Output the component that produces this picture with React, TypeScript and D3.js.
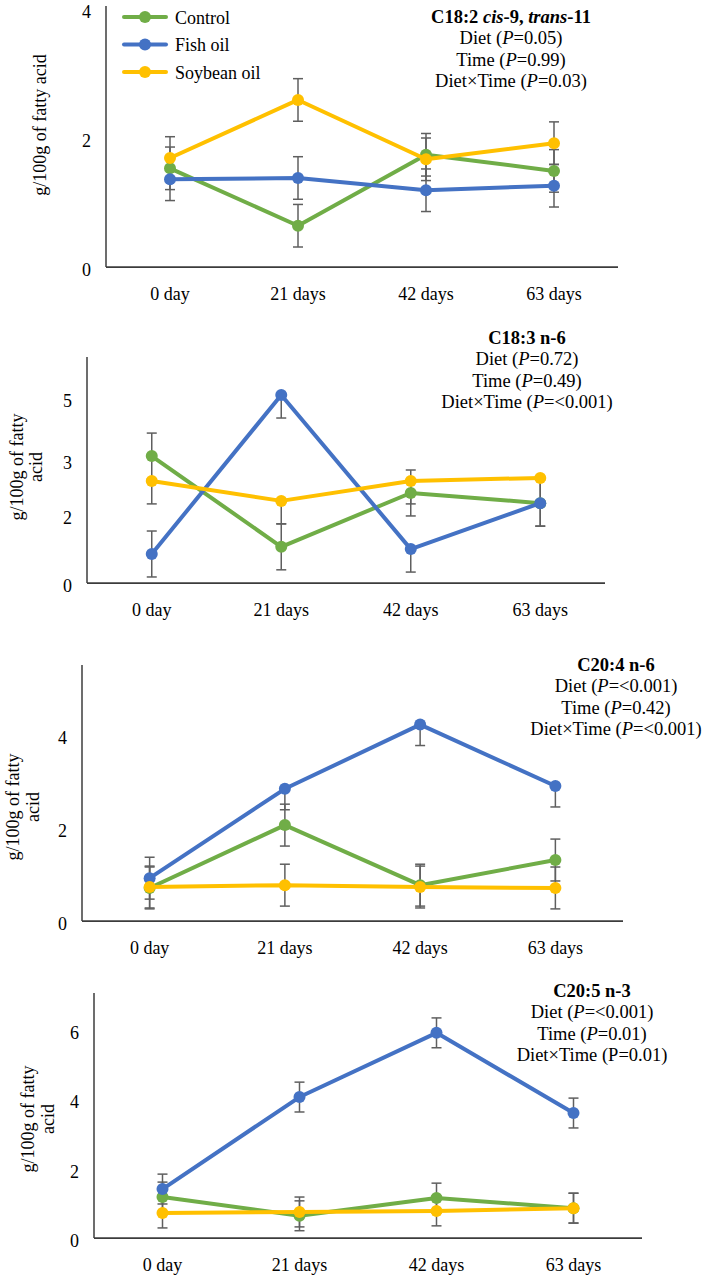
import React from "react";
import * as d3 from "d3";

// ---------- data ----------
const days = ["0 day", "21 days", "42 days", "63 days"];
const seriesNames = ["Control", "Fish oil", "Soybean oil"];
const seriesColors = ["#70AD47", "#4472C4", "#FFC000"];

// Panel 1: C18:2 cis-9, trans-11
const p1Control = [1.53, 0.64, 1.74, 1.49];
const p1Fish = [1.36, 1.38, 1.19, 1.26];
const p1Soy = [1.69, 2.59, 1.67, 1.92];
const p1ErrUp = [[0.33, 0.33, 0.33, 0.33], [0.33, 0.33, 0.33, 0.33], [0.33, 0.33, 0.33, 0.33]];
const p1ErrDown = [[0.33, 0.33, 0.33, 0.33], [0.33, 0.33, 0.33, 0.33], [0.33, 0.33, 0.33, 0.33]];
const p1Ticks = [0, 2, 4];
const p1TickLabels = ["0", "2", "4"];

// Panel 2: C18:3 n-6
const p2Control = [3.37, 0.96, 2.39, 2.12];
const p2Fish = [0.77, 4.99, 0.9, 2.12];
const p2Soy = [2.71, 2.18, 2.71, 2.79];
const p2ErrUp = [[0.61, 0.61, 0.61, 0.61], [0.61, 0, 0, 0], [0, 0, 0, 0]];
const p2ErrDown = [[0.61, 0.61, 0.61, 0.61], [0.61, 0.61, 0.61, 0.61], [0.61, 0.61, 0.61, 0.61]];
const p2Ticks = [0, 1.8, 3.27, 4.91];
const p2TickLabels = ["0", "2", "3", "5"];

// Panel 3: C20:4 n-6
const p3Control = [0.71, 2.06, 0.77, 1.31];
const p3Fish = [0.92, 2.84, 4.22, 2.9];
const p3Soy = [0.73, 0.77, 0.73, 0.71];
const p3ErrUp = [[0.45, 0.45, 0.45, 0.45], [0.45, 0, 0, 0], [0.45, 0.45, 0.45, 0.45]];
const p3ErrDown = [[0.45, 0.45, 0.45, 0.45], [0.45, 0.45, 0.45, 0.45], [0.45, 0.45, 0.45, 0.45]];
const p3Ticks = [0, 2, 4];
const p3TickLabels = ["0", "2", "4"];

// Panel 4: C20:5 n-3
const p4Control = [1.18, 0.64, 1.15, 0.86];
const p4Fish = [1.41, 4.06, 5.91, 3.6];
const p4Soy = [0.72, 0.75, 0.78, 0.86];
const p4ErrUp = [[0.43, 0.43, 0.43, 0.43], [0.43, 0.43, 0.43, 0.43], [0.43, 0.43, 0.43, 0.43]];
const p4ErrDown = [[0.43, 0.43, 0.43, 0.43], [0.43, 0.43, 0.43, 0.43], [0.43, 0.43, 0.43, 0.43]];
const p4Ticks = [0, 2, 4, 6];
const p4TickLabels = ["0", "2", "4", "6"];

// ---------- layout ----------
const FONT = "'Liberation Serif', 'Times New Roman', serif";

type Seg = { t: string; b?: boolean; i?: boolean };

const panels = [
  {
    series: [p1Control, p1Fish, p1Soy], errUp: p1ErrUp, errDown: p1ErrDown,
    ticks: p1Ticks, tickLabels: p1TickLabels, yMax: 4,
    x0: 106, x1: 618, yBottom: 267, yTop: 9, axisTop: 6,
    yLabel: ["g/100g of fatty acid"], yLabelX: [40], yLabelY: 125,
    annX: 511, annY: 23,
    ann: [
      [{ t: "C18:2 ", b: true }, { t: "cis", b: true, i: true }, { t: "-9, ", b: true }, { t: "trans", b: true, i: true }, { t: "-11", b: true }],
      [{ t: "Diet (" }, { t: "P", i: true }, { t: "=0.05)" }],
      [{ t: "Time (" }, { t: "P", i: true }, { t: "=0.99)" }],
      [{ t: "Diet×Time (" }, { t: "P", i: true }, { t: "=0.03)" }],
    ] as Seg[][],
    legend: true,
  },
  {
    series: [p2Control, p2Fish, p2Soy], errUp: p2ErrUp, errDown: p2ErrDown,
    ticks: p2Ticks, tickLabels: p2TickLabels, yMax: 6,
    x0: 87, x1: 605, yBottom: 583, yTop: 357, axisTop: 357,
    yLabel: ["g/100g of fatty", "acid"], yLabelX: [17, 36], yLabelY: 467,
    annX: 527, annY: 344,
    ann: [
      [{ t: "C18:3 n-6", b: true }],
      [{ t: "Diet (" }, { t: "P", i: true }, { t: "=0.72)" }],
      [{ t: "Time (" }, { t: "P", i: true }, { t: "=0.49)" }],
      [{ t: "Diet×Time (" }, { t: "P", i: true }, { t: "=<0.001)" }],
    ] as Seg[][],
    legend: false,
  },
  {
    series: [p3Control, p3Fish, p3Soy], errUp: p3ErrUp, errDown: p3ErrDown,
    ticks: p3Ticks, tickLabels: p3TickLabels, yMax: 5.5,
    x0: 82, x1: 623, yBottom: 921, yTop: 665, axisTop: 665,
    yLabel: ["g/100g of fatty", "acid"], yLabelX: [13, 33], yLabelY: 807,
    annX: 616, annY: 671,
    ann: [
      [{ t: "C20:4 n-6", b: true }],
      [{ t: "Diet (" }, { t: "P", i: true }, { t: "=<0.001)" }],
      [{ t: "Time (" }, { t: "P", i: true }, { t: "=0.42)" }],
      [{ t: "Diet×Time (" }, { t: "P", i: true }, { t: "=<0.001)" }],
    ] as Seg[][],
    legend: false,
  },
  {
    series: [p4Control, p4Fish, p4Soy], errUp: p4ErrUp, errDown: p4ErrDown,
    ticks: p4Ticks, tickLabels: p4TickLabels, yMax: 7,
    x0: 94, x1: 642, yBottom: 1238, yTop: 995, axisTop: 993,
    yLabel: ["g/100g of fatty", "acid"], yLabelX: [28, 48], yLabelY: 1119,
    annX: 592, annY: 997,
    ann: [
      [{ t: "C20:5 n-3", b: true }],
      [{ t: "Diet (" }, { t: "P", i: true }, { t: "=<0.001)" }],
      [{ t: "Time (" }, { t: "P", i: true }, { t: "=0.01)" }],
      [{ t: "Diet×Time (P=0.01)" }],
    ] as Seg[][],
    legend: false,
  },
];

const ERR_COLOR = "#5f5f5f";
const AXIS_COLOR = "#3c3c3c";

function Panel({ p }: { p: (typeof panels)[number] }) {
  const x = d3.scalePoint<string>().domain(days).range([p.x0, p.x1]).padding(0.5);
  const y = d3.scaleLinear().domain([0, p.yMax]).range([p.yBottom, p.yTop]);
  const line = d3
    .line<number>()
    .x((_, i) => x(days[i]) as number)
    .y((d) => y(d));
  const cap = 5;
  return (
    <g>
      {/* axes */}
      <line x1={p.x0} x2={p.x0} y1={p.axisTop} y2={p.yBottom} stroke={AXIS_COLOR} strokeWidth={1.5} />
      <line x1={p.x0} x2={p.x1} y1={p.yBottom} y2={p.yBottom} stroke={AXIS_COLOR} strokeWidth={1.75} />
      {p.ticks.map((t, i) => (
        <text key={i} x={p.x0 - 15} y={y(t) + 3} textAnchor="end" dominantBaseline="central" fontSize={18} fontFamily={FONT} fill="#000">
          {p.tickLabels[i]}
        </text>
      ))}
      {days.map((d) => (
        <text key={d} x={x(d)} y={p.yBottom + 33} textAnchor="middle" fontSize={18} fontFamily={FONT} fill="#000">
          {d}
        </text>
      ))}
      {/* y label */}
      {p.yLabel.map((l, i) => (
        <text
          key={i}
          transform={`translate(${p.yLabelX[i]},${p.yLabelY}) rotate(-90)`}
          textAnchor="middle"
          dominantBaseline="central"
          fontSize={18}
          fontFamily={FONT}
          fill="#000"
        >
          {l}
        </text>
      ))}
      {/* error bars */}
      {p.series.map((s, si) =>
        s.map((v, i) => {
          const cx = x(days[i]) as number;
          const up = p.errUp[si][i];
          const dn = p.errDown[si][i];
          return (
            <g key={`e${si}-${i}`} stroke={ERR_COLOR} strokeWidth={1.5}>
              {up > 0 && (
                <>
                  <line x1={cx} x2={cx} y1={y(v)} y2={y(v + up)} />
                  <line x1={cx - cap} x2={cx + cap} y1={y(v + up)} y2={y(v + up)} />
                </>
              )}
              {dn > 0 && (
                <>
                  <line x1={cx} x2={cx} y1={y(v)} y2={y(v - dn)} />
                  <line x1={cx - cap} x2={cx + cap} y1={y(v - dn)} y2={y(v - dn)} />
                </>
              )}
            </g>
          );
        })
      )}
      {/* lines + markers */}
      {p.series.map((s, si) => (
        <g key={`s${si}`}>
          <path d={line(s) || ""} fill="none" stroke={seriesColors[si]} strokeWidth={4} strokeLinejoin="round" strokeLinecap="round" />
          {s.map((v, i) => (
            <circle key={i} cx={x(days[i]) as number} cy={y(v)} r={6} fill={seriesColors[si]} />
          ))}
        </g>
      ))}
      {/* annotation */}
      {p.ann.map((segs, li) => (
        <text key={li} x={p.annX} y={p.annY + li * 21.3} textAnchor="middle" fontSize={18.5} fontFamily={FONT} fill="#000">
          {segs.map((sg, k) => (
            <tspan key={k} fontWeight={sg.b ? "bold" : "normal"} fontStyle={sg.i ? "italic" : "normal"}>
              {sg.t}
            </tspan>
          ))}
        </text>
      ))}
      {/* legend */}
      {p.legend &&
        seriesNames.map((n, i) => {
          const ly = 17 + i * 27.5;
          return (
            <g key={n}>
              <line x1={124} x2={166} y1={ly} y2={ly} stroke={seriesColors[i]} strokeWidth={4} strokeLinecap="round" />
              <circle cx={145} cy={ly} r={6} fill={seriesColors[i]} />
              <text x={175} y={ly + 6.5} fontSize={18} fontFamily={FONT} fill="#000">
                {n}
              </text>
            </g>
          );
        })}
    </g>
  );
}

export default function App() {
  return (
    <svg width={705} height={1276} style={{ position: "absolute", left: 0, top: 0, display: "block", background: "#fff" }}>
      <rect x={0} y={0} width={705} height={1276} fill="#fff" />
      {panels.map((p, i) => (
        <Panel key={i} p={p} />
      ))}
    </svg>
  );
}
